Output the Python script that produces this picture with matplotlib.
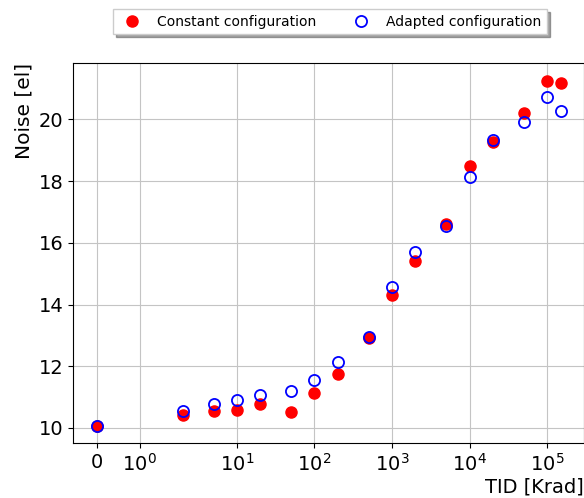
import matplotlib
matplotlib.use("Agg")
import matplotlib.pyplot as plt
from matplotlib.ticker import NullLocator

# Доза (TID) в Krad
tid = [0, 2, 5, 10, 20, 50, 100, 200, 500, 1000, 2000, 5000,
       10000, 20000, 50000, 100000, 150000]

# Шум, постоянная конфигурация
noise_const = [10.07, 10.42, 10.54, 10.59, 10.79, 10.51, 11.14, 11.74, 12.90,
               14.30, 15.41, 16.60, 18.48, 19.27, 20.20, 21.26, 21.19]

# Шум, адаптированная конфигурация
noise_adapt = [10.07, 10.54, 10.77, 10.91, 11.06, 11.20, 11.54, 12.15, 12.94,
               14.57, 15.70, 16.53, 18.12, 19.33, 19.92, 20.74, 20.28]

xticks = [0, 1, 10, 100, 1000, 10000, 100000]
xticklabels = ["0", "$10^0$", "$10^1$", "$10^2$", "$10^3$", "$10^4$", "$10^5$"]

fig = plt.figure(figsize=(5.84, 4.98), dpi=100)
ax = fig.add_axes([0.1255, 0.1104, 0.8745, 0.7625])

ax.plot(tid, noise_const, "o", color="red", markersize=8,
        label="Constant configuration")
ax.plot(tid, noise_adapt, "o", markerfacecolor="none", markeredgecolor="blue",
        markeredgewidth=1.3, markersize=8, label="Adapted configuration")

ax.set_xscale("symlog", linthresh=2)
ax.set_xticks(xticks)
ax.set_xticklabels(xticklabels)
ax.xaxis.set_minor_locator(NullLocator())
ax.set_yticks([10, 12, 14, 16, 18, 20])
ax.tick_params(labelsize=14)
ax.grid(True, color="#c4c4c4")

ax.set_xlabel("TID [Krad]", fontsize=14, loc="right", labelpad=2)
ax.set_ylabel("Noise [el]", fontsize=14.5, loc="top")

fig.legend(loc="center", bbox_to_anchor=(0.565, 0.956), ncol=2,
           shadow=True, fontsize=10, fancybox=False, framealpha=1,
           edgecolor="#cccccc", columnspacing=2.2)

fig.savefig("out.png", dpi=100)
